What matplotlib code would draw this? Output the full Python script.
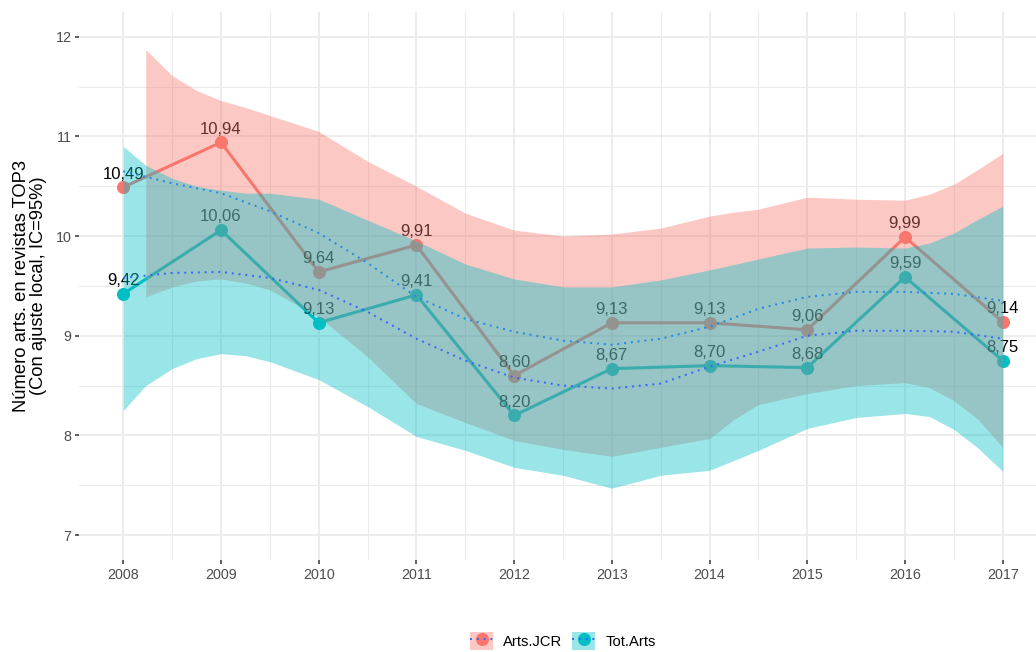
import matplotlib
matplotlib.use("Agg")
import matplotlib.pyplot as plt
from matplotlib.lines import Line2D
from matplotlib.patches import Patch
from matplotlib.legend_handler import HandlerTuple

plt.rcParams['font.family'] = ['Liberation Sans', 'DejaVu Sans']

# datos
years = [2008, 2009, 2010, 2011, 2012, 2013, 2014, 2015, 2016, 2017]
arts_jcr = [10.49, 10.94, 9.64, 9.91, 8.60, 9.13, 9.13, 9.06, 9.99, 9.14]
tot_arts = [9.42, 10.06, 9.13, 9.41, 8.20, 8.67, 8.70, 8.68, 9.59, 8.75]

# ajuste local (cada medio año)
smooth_x = [2008, 2008.5, 2009, 2009.5, 2010, 2010.5, 2011, 2011.5, 2012, 2012.5,
            2013, 2013.5, 2014, 2014.5, 2015, 2015.5, 2016, 2016.5, 2017]
jcr_smooth = [10.65, 10.53, 10.43, 10.25, 10.03, 9.73, 9.39, 9.17, 9.04, 8.95,
              8.91, 8.97, 9.09, 9.27, 9.39, 9.44, 9.44, 9.42, 9.35]
tot_smooth = [9.58, 9.63, 9.64, 9.58, 9.46, 9.24, 8.97, 8.75, 8.58, 8.50,
              8.47, 8.52, 8.69, 8.84, 9.00, 9.05, 9.05, 9.04, 8.97]

# bandas IC 95% (la roja empieza donde entra en ylim)
jcr_band_x = [2008.23, 2008.5, 2008.75, 2009, 2009.25, 2009.5, 2010, 2010.5, 2011, 2011.5,
              2012, 2012.5, 2013, 2013.5, 2014, 2014.25, 2014.5, 2015, 2015.5, 2016,
              2016.25, 2016.5, 2016.75, 2017]
jcr_hi = [11.87, 11.61, 11.46, 11.36, 11.29, 11.21, 11.05, 10.75, 10.50, 10.23,
          10.06, 10.00, 10.02, 10.08, 10.20, 10.24, 10.27, 10.39, 10.37, 10.36,
          10.42, 10.52, 10.67, 10.83]
jcr_lo = [9.39, 9.49, 9.55, 9.57, 9.53, 9.46, 9.19, 8.79, 8.32, 8.13,
          7.95, 7.86, 7.79, 7.88, 7.97, 8.16, 8.31, 8.42, 8.50, 8.53,
          8.48, 8.35, 8.16, 7.88]

tot_band_x = [2008, 2008.23, 2008.5, 2008.75, 2009, 2009.25, 2009.5, 2010, 2010.5, 2011,
              2011.5, 2012, 2012.5, 2013, 2013.5, 2014, 2014.5, 2015, 2015.5, 2016,
              2016.25, 2016.5, 2016.75, 2017]
tot_hi = [10.90, 10.71, 10.58, 10.50, 10.46, 10.43, 10.43, 10.37, 10.16, 9.95,
          9.72, 9.57, 9.49, 9.49, 9.56, 9.66, 9.77, 9.88, 9.89, 9.88,
          9.93, 10.03, 10.17, 10.30]
tot_lo = [8.25, 8.50, 8.67, 8.77, 8.82, 8.80, 8.74, 8.56, 8.29, 7.99,
          7.85, 7.68, 7.60, 7.47, 7.60, 7.65, 7.85, 8.07, 8.18, 8.22,
          8.19, 8.06, 7.87, 7.64]

series_names = ['Arts.JCR', 'Tot.Arts']
RED = '#F8766D'
CYAN = '#00BFC4'
BLUE = '#3366FF'

fig = plt.figure(figsize=(10.36, 6.52), dpi=100)
# el panel se sale un poco por la derecha, como en el original
ax = fig.add_axes([79.3 / 1036, 92 / 652, 967.4 / 1036, 548.2 / 652])

for vals, col in [(arts_jcr, RED), (tot_arts, CYAN)]:
    ax.plot(years, vals, color=col, lw=2.2, zorder=2)
    ax.plot(years, vals, ls='none', marker='o', ms=8.4, color=col, zorder=3)
    for x, v in zip(years, vals):
        ax.annotate(f"{v:.2f}".replace('.', ','), (x, v), xytext=(0, 6.2),
                    textcoords='offset points', ha='center', va='baseline',
                    fontsize=12, color='black', zorder=4)

dots = (0, (1, 2.5))
ax.fill_between(jcr_band_x, jcr_lo, jcr_hi, color=RED, alpha=0.4, lw=0, zorder=5)
ax.plot(smooth_x, jcr_smooth, color=BLUE, lw=1.4, ls=dots, zorder=6)
ax.fill_between(tot_band_x, tot_lo, tot_hi, color=CYAN, alpha=0.4, lw=0, zorder=7)
ax.plot(smooth_x, tot_smooth, color=BLUE, lw=1.4, ls=dots, zorder=8)

ax.set_xticks(years)
ax.set_xticklabels([str(y) for y in years])
ax.set_yticks([7, 8, 9, 10, 11, 12])
ax.set_xticks([y + 0.5 for y in years[:-1]], minor=True)
ax.set_yticks([7.5, 8.5, 9.5, 10.5, 11.5], minor=True)
# limites despues de los ticks (set_xticks amplia la vista)
ax.set_xlim(2007.55, 2017.45)
ax.set_ylim(6.75, 12.25)
ax.grid(True, which='major', color='#EBEBEB', lw=1.3)
ax.grid(True, which='minor', color='#EBEBEB', lw=0.75)
ax.set_axisbelow(True)
for s in ax.spines.values():
    s.set_visible(False)
ax.tick_params(which='major', length=3, width=1.1, color='#333333',
               labelsize=10.3, labelcolor='#4D4D4D', pad=2.5)
ax.tick_params(which='minor', length=0)

ax.set_ylabel("Número arts. en revistas TOP3\n(Con ajuste local, IC=95%)",
              fontsize=13.2, linespacing=1.05, va='center', ha='center')
ax.yaxis.set_label_coords(-0.051, 0.5)

handles = []
for col in [RED, CYAN]:
    handles.append((Line2D([], [], ls='none', marker='o', ms=8.4, color=col),
                    Patch(facecolor=col, alpha=0.4, edgecolor='none'),
                    Line2D([], [], color=BLUE, lw=1.4, ls=dots)))
fig.legend(handles, series_names, handler_map={tuple: HandlerTuple(ndivide=1)},
           loc='center', bbox_to_anchor=(563 / 1036, 1 - 641 / 652), ncol=2,
           frameon=False, fontsize=10.6, handlelength=1.55, handleheight=1.5,
           handletextpad=0.68, columnspacing=0.68, borderpad=0)

fig.savefig("out.png", dpi=100)
